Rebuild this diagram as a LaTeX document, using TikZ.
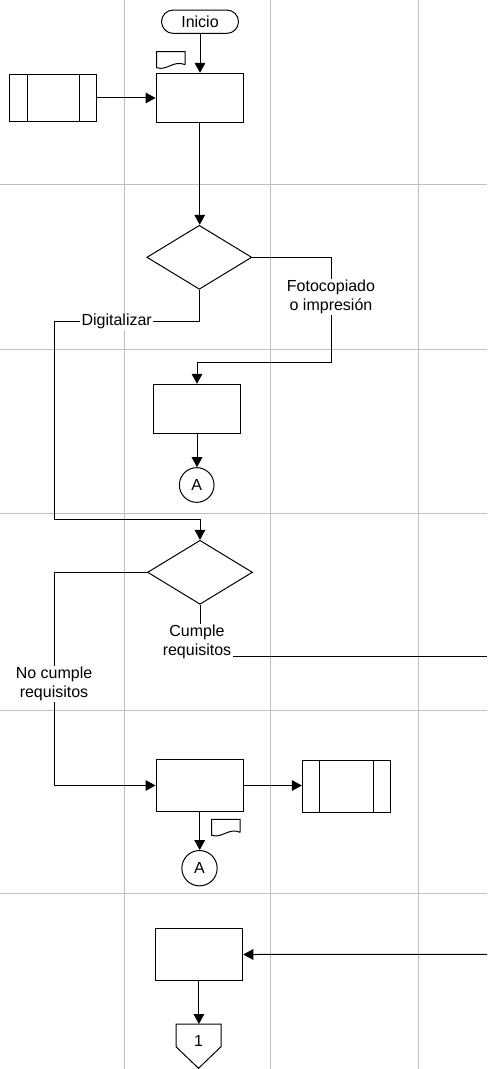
\documentclass[tikz,border=0pt]{standalone}
\usepackage{fontspec}
\setmainfont{Liberation Sans}
\usetikzlibrary{arrows.meta,shapes.geometric,shapes.misc}

\tikzset{
  docmark/.pic={
    \draw[line width=0.75pt] (28.5,13) -- (28.5,0) -- (0,0) -- (0,16)
      .. controls (10,19.5) and (17,8) .. (28.5,13);
  }
}

\begin{document}
\begin{tikzpicture}[x=0.75pt,y=-0.75pt,
  txt/.style={font=\fontsize{12}{14.5}\selectfont},
  shp/.style={draw,line width=0.75pt,inner sep=0pt,txt},
  proc/.style={shp,rectangle,minimum width=65.5pt},
  dec/.style={shp,diamond,minimum width=78.75pt,minimum height=48pt},
  conn/.style={shp,circle,minimum size=26pt},
  flow/.style={line width=0.75pt,-{Triangle[length=7.5pt,width=8pt]}},
  plain/.style={line width=0.75pt},
  lane/.style={line width=0.75pt,draw=black!25},
  lbl/.style={txt,fill=white,align=center,inner sep=1pt}
]
\useasboundingbox (0,0) rectangle (487,1069);
\clip (0,0) rectangle (487,1069);

% swimlane grid
\foreach \x in {124.3,270,418.7} \draw[lane] (\x,0) -- (\x,1069);
\foreach \y in {185,349.3,513.3,710,893.3} \draw[lane] (0,\y) -- (487,\y);

% shapes
\node[shp,rounded rectangle,minimum width=57.75pt,minimum height=17.5pt] (ini) at (200,21.7) {Inicio};
\node[proc,minimum height=37pt] (b1) at (199.7,98) {};
\node[proc,minimum width=65pt,minimum height=35.5pt] (s1) at (53.3,98) {};
\draw[line width=0.75pt] ([xshift=13.25pt]s1.north west) -- ([xshift=13.25pt]s1.south west);
\draw[line width=0.75pt] ([xshift=-13pt]s1.north east) -- ([xshift=-13pt]s1.south east);
\pic at (156.7,51.7) {docmark};

\node[dec] (d1) at (199.3,257.3) {};
\node[proc,minimum height=36.75pt] (b2) at (197,408.8) {};
\node[conn] (a1) at (196.7,485) {A};

\node[dec] (d2) at (200,572.3) {};
\node[proc,minimum height=39.3pt] (b3) at (199.7,785.5) {};
\node[proc,minimum width=65.8pt,minimum height=39.2pt] (s2) at (346.2,786.2) {};
\draw[line width=0.75pt] ([xshift=13.3pt]s2.north west) -- ([xshift=13.3pt]s2.south west);
\draw[line width=0.75pt] ([xshift=-13pt]s2.north east) -- ([xshift=-13pt]s2.south east);
\pic at (211.7,819.3) {docmark};
\node[conn,minimum size=26.5pt] (a2) at (199.5,868.2) {A};

\node[proc,minimum width=65.8pt,minimum height=39.3pt] (b4) at (198.9,954.5) {};
\draw[line width=0.75pt] (176,1024) -- (221,1024) -- (221,1046.7) -- (198.5,1068.3) -- (176,1046.7) -- cycle;
\node[txt,inner sep=0pt] (o1) at (198.6,1040.5) {1};
\coordinate (o1top) at (198.5,1024);

% bend points and off-page ends
\coordinate (r1) at (331,362.7);
\coordinate (l1) at (54,321.7);
\coordinate (l2) at (54,519);
\coordinate (l3) at (54.3,785.5);
\coordinate (r2) at (487,656.7);
\coordinate (r3) at (487,954.3);

% connectors
\draw[flow] (ini.south) -- (ini.south |- b1.north);
\draw[flow] (s1.east) -- (b1.west);
\draw[flow] (b1.south) -- (b1.south |- d1.north);
\draw[flow] (d1.east) -| (r1) -| (b2.north);
\draw[flow] (d1.south) |- (l1) -- (l2) -| (d2.north);
\draw[flow] (b2.south) -- (b2.south |- a1.north);
\draw[flow] (d2.west) -| (l3) -- (b3.west);
\draw[plain] (d2.south) |- (r2);
\draw[flow] (b3.east) -- (b3.east -| s2.west);
\draw[flow] (b3.south) -- (b3.south |- a2.north);
\draw[flow] (r3) -- (b4.east);
\draw[flow] (b4.south) -- (b4.south |- o1top);

% connector labels
\node[lbl] (lf) at (331,297) {Fotocopiado\\o impresión};
\node[lbl] (ld) at (116.7,321.7) {Digitalizar};
\node[lbl] (ln) at (54,684) {No cumple\\requisitos};
\node[lbl] (lc) at (197,642) {Cumple\\requisitos};
\end{tikzpicture}
\end{document}
